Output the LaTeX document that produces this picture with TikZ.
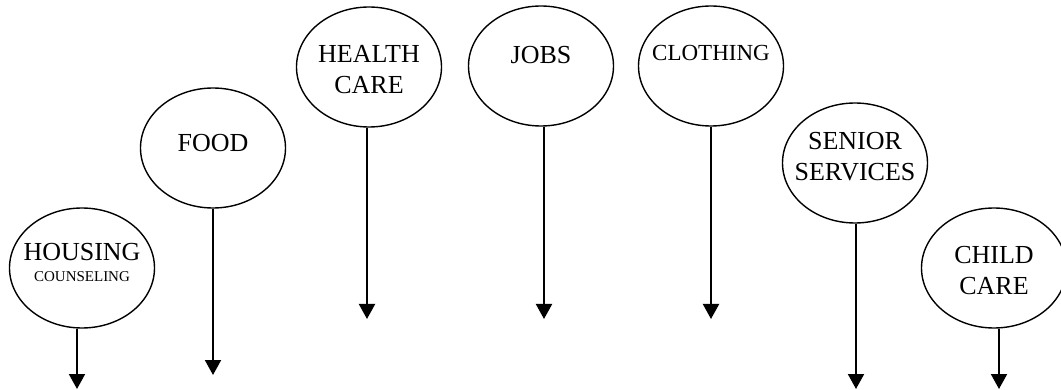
\documentclass[tikz,border=0pt]{standalone}
\usepackage{fontspec}
\setmainfont{Liberation Serif}
\usetikzlibrary{shapes.geometric,arrows.meta}
\begin{document}
\begin{tikzpicture}[x=1pt,y=-1pt,
  bubble/.style={draw, ellipse, line width=1.4pt, minimum width=145pt, minimum height=120pt, inner sep=0pt},
  lbl/.style={font=\fontsize{26}{31}\selectfont, align=center, inner sep=0pt},
  small/.style={font=\fontsize{15}{18}\selectfont, inner sep=0pt},
  arr/.style={line width=2pt, -{Triangle[length=15pt,width=16pt]}}]
\useasboundingbox (0,0) rectangle (1061,390);
% ellipses
\node[bubble] (hou) at (82,268) {};
\node[bubble] (foo) at (213,148) {};
\node[bubble] (hea) at (369,67) {};
\node[bubble] (job) at (541,66) {};
\node[bubble] (clo) at (711,66) {};
\node[bubble] (sen) at (855,163) {};
\node[bubble] (chi) at (994,268) {};
% labels
\node[lbl] (houT) at (82,252) {HOUSING};
\node[small] (houS) at (82,277) {COUNSELING};
\node[lbl] (fooT) at (213,143) {FOOD};
\node[lbl] (heaT) at (369,70) {HEALTH\\CARE};
\node[lbl] (jobT) at (541,55) {JOBS};
\node[lbl,font=\fontsize{23}{28}\selectfont] (cloT) at (711,53) {CLOTHING};
\node[lbl] (senT) at (855,157) {SENIOR\\SERVICES};
\node[lbl] (chiT) at (994,271) {CHILD\\CARE};
% arrow tips
\coordinate (houE) at (77,389);
\coordinate (fooE) at (213,375);
\coordinate (heaE) at (367,319);
\coordinate (jobE) at (544,319);
\coordinate (cloE) at (711,319);
\coordinate (senE) at (856,389);
\coordinate (chiE) at (999,389);
\foreach \n in {hou,foo,hea,job,clo,sen,chi}{
  \draw[arr] (\n E |- \n.south) -- (\n E);
}
\end{tikzpicture}
\end{document}
